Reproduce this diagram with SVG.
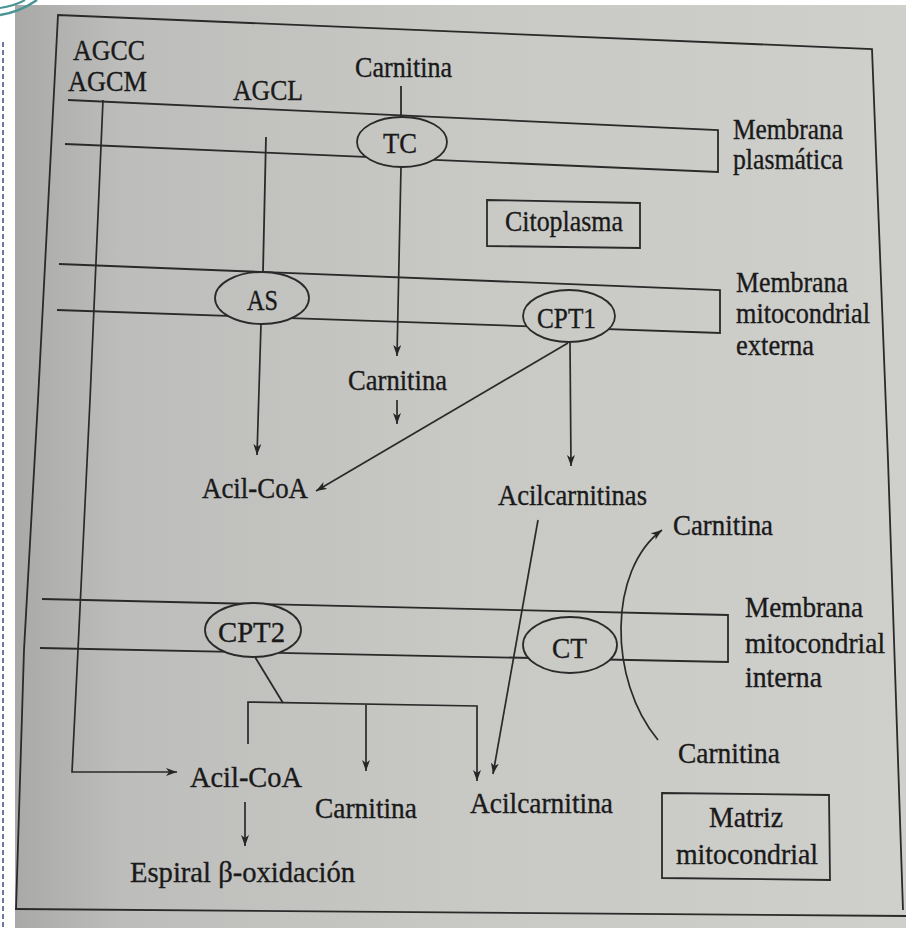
<svg xmlns="http://www.w3.org/2000/svg" width="906" height="928" viewBox="0 0 906 928">
<defs>
<linearGradient id="paper" gradientUnits="userSpaceOnUse" x1="15" y1="0" x2="906" y2="0">
<stop offset="0" stop-color="#a9a9a7"/>
<stop offset="0.12" stop-color="#bdbdbb"/>
<stop offset="0.5" stop-color="#c8c8c5"/>
<stop offset="1" stop-color="#cfcfcc"/>
</linearGradient>
<marker id="ah" markerUnits="userSpaceOnUse" markerWidth="13" markerHeight="10" refX="11" refY="4" orient="auto">
<path d="M0,0 L11,4 L0,8 L3,4 Z" fill="#262626"/>
</marker>
<style>
.ln{fill:none;stroke:#2a2a2a;stroke-width:1.8}
.arr{fill:none;stroke:#2a2a2a;stroke-width:1.7;marker-end:url(#ah)}
.el{fill:url(#paper);stroke:#2a2a2a;stroke-width:1.8}
.box{fill:none;stroke:#2a2a2a;stroke-width:1.8}
text{font-family:"Liberation Serif","Times New Roman",serif;font-size:29px;fill:#1a1a1a;stroke:#1a1a1a;stroke-width:0.35}
</style>
</defs>

<!-- page / photo background -->
<rect x="0" y="0" width="906" height="928" fill="#ffffff"/>
<rect x="15" y="5" width="891" height="923" fill="url(#paper)"/>
<line x1="3" y1="42" x2="3" y2="928" stroke="#6a78a8" stroke-width="2" stroke-dasharray="5,3"/>
<path d="M0,15 Q20,12 37,0" fill="none" stroke="#4a9494" stroke-width="2.5"/>
<path d="M0,8 Q14,6 25,0" fill="none" stroke="#4a9494" stroke-width="2"/>

<!-- frame -->
<g id="frame">
<polyline class="ln" points="16,910 24,650 38,400 58,15 872,49 888,460 903,910"/>
<line class="ln" x1="15" y1="909" x2="906" y2="916"/>
</g>

<!-- membranes -->
<g id="membrana-plasmatica">
<polyline class="ln" points="68,100 718,130 718,172 65,144"/>
<text x="733" y="139" textLength="110" lengthAdjust="spacingAndGlyphs">Membrana</text>
<text x="733" y="169" textLength="110" lengthAdjust="spacingAndGlyphs">plasmática</text>
</g>
<g id="membrana-externa">
<polyline class="ln" points="59,264 720,290 720,333 57,310"/>
<text x="736" y="292" textLength="112" lengthAdjust="spacingAndGlyphs">Membrana</text>
<text x="736" y="323" textLength="134" lengthAdjust="spacingAndGlyphs">mitocondrial</text>
<text x="736" y="355" textLength="78" lengthAdjust="spacingAndGlyphs">externa</text>
</g>
<g id="membrana-interna">
<polyline class="ln" points="42,599 728,615 728,662 40,648"/>
<text x="745" y="617" textLength="118" lengthAdjust="spacingAndGlyphs">Membrana</text>
<text x="745" y="653" textLength="140" lengthAdjust="spacingAndGlyphs">mitocondrial</text>
<text x="745" y="687" textLength="77" lengthAdjust="spacingAndGlyphs">interna</text>
</g>

<!-- connectors -->
<g id="connectors">
<polyline class="arr" points="103,100 90,400 78,650 72,772 177,772"/>
<line class="ln" x1="266" y1="137" x2="263" y2="272"/>
<line class="ln" x1="401" y1="86" x2="401" y2="117"/>
<line class="arr" x1="401" y1="167" x2="397" y2="356"/>
<line class="arr" x1="261" y1="324" x2="257" y2="455"/>
<line class="arr" x1="397" y1="400" x2="397" y2="424"/>
<line class="arr" x1="568" y1="343" x2="316" y2="491"/>
<line class="arr" x1="570" y1="343" x2="571" y2="466"/>
<line class="arr" x1="538" y1="520" x2="493" y2="774"/>
<path class="arr" d="M658,740 C608,680 608,570 662,530"/>
<line class="ln" x1="255" y1="657" x2="283" y2="703"/>
<polyline class="arr" points="248,744 248,702 477,706 477,781"/>
<line class="arr" x1="366" y1="705" x2="366" y2="771"/>
<line class="arr" x1="245" y1="802" x2="245" y2="846"/>
</g>

<!-- enzyme / transporter nodes -->
<g id="TC">
<ellipse class="el" cx="402" cy="142" rx="45" ry="25"/>
<text x="383" y="153" textLength="34" lengthAdjust="spacingAndGlyphs">TC</text>
</g>
<g id="AS">
<ellipse class="el" cx="262" cy="298" rx="47" ry="26"/>
<text x="247" y="310" textLength="31" lengthAdjust="spacingAndGlyphs">AS</text>
</g>
<g id="CPT1">
<ellipse class="el" cx="569" cy="316" rx="46" ry="26"/>
<text x="537" y="328" textLength="59" lengthAdjust="spacingAndGlyphs">CPT1</text>
</g>
<g id="CPT2">
<ellipse class="el" cx="253" cy="630" rx="48" ry="27"/>
<text x="218" y="642" textLength="67" lengthAdjust="spacingAndGlyphs">CPT2</text>
</g>
<g id="CT">
<ellipse class="el" cx="570" cy="645" rx="47" ry="28"/>
<text x="552" y="658" textLength="35" lengthAdjust="spacingAndGlyphs">CT</text>
</g>

<!-- metabolite labels -->
<g id="AGCC-AGCM">
<text x="73" y="60" textLength="72" lengthAdjust="spacingAndGlyphs">AGCC</text>
<text x="68" y="91" textLength="79" lengthAdjust="spacingAndGlyphs">AGCM</text>
</g>
<g id="AGCL"><text x="233" y="100" textLength="70" lengthAdjust="spacingAndGlyphs">AGCL</text></g>
<g id="carnitina-ext"><text x="355" y="77" textLength="97" lengthAdjust="spacingAndGlyphs">Carnitina</text></g>
<g id="citoplasma">
<polygon class="box" points="487,200 640,203 640,248 487,246"/>
<text x="505" y="231" textLength="118" lengthAdjust="spacingAndGlyphs">Citoplasma</text>
</g>
<g id="carnitina-cit"><text x="348" y="390" textLength="99" lengthAdjust="spacingAndGlyphs">Carnitina</text></g>
<g id="acil-coa-cit"><text x="202" y="498" textLength="106" lengthAdjust="spacingAndGlyphs">Acil-CoA</text></g>
<g id="acilcarnitinas"><text x="498" y="505" textLength="149" lengthAdjust="spacingAndGlyphs">Acilcarnitinas</text></g>
<g id="carnitina-out"><text x="673" y="535" textLength="100" lengthAdjust="spacingAndGlyphs">Carnitina</text></g>
<g id="carnitina-in"><text x="678" y="763" textLength="102" lengthAdjust="spacingAndGlyphs">Carnitina</text></g>
<g id="acil-coa-mat"><text x="190" y="787" textLength="112" lengthAdjust="spacingAndGlyphs">Acil-CoA</text></g>
<g id="carnitina-mat"><text x="315" y="818" textLength="102" lengthAdjust="spacingAndGlyphs">Carnitina</text></g>
<g id="acilcarnitina-mat"><text x="470" y="813" textLength="143" lengthAdjust="spacingAndGlyphs">Acilcarnitina</text></g>
<g id="beta-oxidacion"><text x="130" y="882" textLength="225" lengthAdjust="spacingAndGlyphs">Espiral β-oxidación</text></g>
<g id="matriz">
<polygon class="box" points="662,793 829,795 830,880 662,878"/>
<text x="709" y="827" textLength="74" lengthAdjust="spacingAndGlyphs">Matriz</text>
<text x="676" y="864" textLength="142" lengthAdjust="spacingAndGlyphs">mitocondrial</text>
</g>
</svg>
